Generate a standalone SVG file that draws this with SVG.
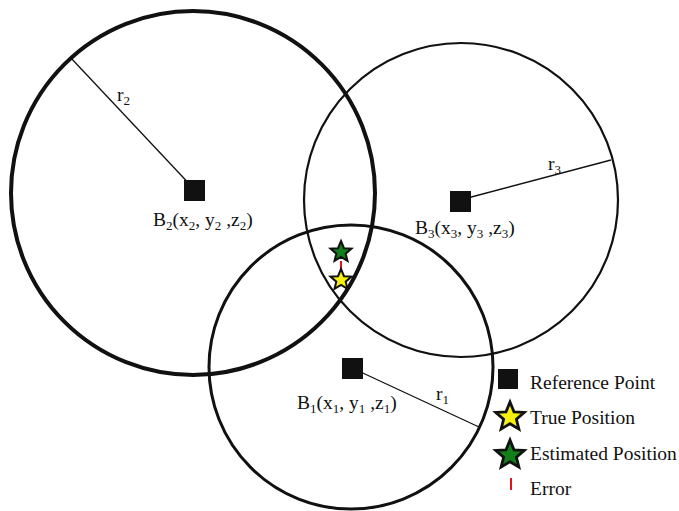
<svg xmlns="http://www.w3.org/2000/svg" width="679" height="511" viewBox="0 0 679 511">
<defs>
<style>
text{font-family:"Liberation Serif","Times New Roman",serif;font-size:19.5px;fill:#111}
.sub{font-size:13px}
.circ{fill:none;stroke:#111}
.rad{stroke:#111;stroke-width:1.3}
.sq{fill:#111}
.err{stroke:#e0151b;stroke-width:2}
</style>
<polygon id="star" points="0,-15 4,-5.2 14.3,-4.6 6.4,2.3 8.9,12.1 0,6.7 -8.9,12.1 -6.4,2.3 -14.3,-4.6 -4,-5.2" stroke="#111" stroke-width="2.8" stroke-linejoin="miter"/>
<polygon id="starS" points="0,-11 3,-3.8 10.5,-3.4 4.7,1.7 6.5,8.9 0,4.9 -6.5,8.9 -4.7,1.7 -10.5,-3.4 -3,-3.8" stroke="#111" stroke-width="2" stroke-linejoin="miter"/>
</defs>
<rect width="679" height="511" fill="#fff"/>
<g id="connectors">
<line class="rad" x1="195" y1="190" x2="70" y2="57"/>
<line class="rad" x1="460" y1="200" x2="611" y2="160"/>
<line class="rad" x1="352" y1="368" x2="479" y2="427"/>
<line class="err" x1="341" y1="261" x2="341" y2="273"/>
</g>
<g id="circle2"><circle class="circ" cx="193" cy="193" r="182" stroke-width="4"/></g>
<g id="circle3"><circle class="circ" cx="461" cy="200" r="157" stroke-width="2.2"/></g>
<g id="circle1"><circle class="circ" cx="351" cy="367" r="142" stroke-width="3"/></g>
<g id="B2">
<rect class="sq" x="184" y="180" width="21" height="21"/>
<text x="153" y="226">B<tspan class="sub" dy="4">2</tspan><tspan dy="-4">(x</tspan><tspan class="sub" dy="4">2</tspan><tspan dy="-4">, y</tspan><tspan class="sub" dy="4">2</tspan><tspan dy="-4"> ,z</tspan><tspan class="sub" dy="4">2</tspan><tspan dy="-4">)</tspan></text>
<text x="117" y="101">r<tspan class="sub" dy="4">2</tspan></text>
</g>
<g id="B3">
<rect class="sq" x="450" y="191" width="21" height="21"/>
<text x="415" y="234">B<tspan class="sub" dy="4">3</tspan><tspan dy="-4">(x</tspan><tspan class="sub" dy="4">3</tspan><tspan dy="-4">, y</tspan><tspan class="sub" dy="4">3</tspan><tspan dy="-4"> ,z</tspan><tspan class="sub" dy="4">3</tspan><tspan dy="-4">)</tspan></text>
<text x="548" y="170">r<tspan class="sub" dy="4">3</tspan></text>
</g>
<g id="B1">
<rect class="sq" x="342" y="358" width="21" height="21"/>
<text x="297" y="409">B<tspan class="sub" dy="4">1</tspan><tspan dy="-4">(x</tspan><tspan class="sub" dy="4">1</tspan><tspan dy="-4">, y</tspan><tspan class="sub" dy="4">1</tspan><tspan dy="-4"> ,z</tspan><tspan class="sub" dy="4">1</tspan><tspan dy="-4">)</tspan></text>
<text x="436" y="400">r<tspan class="sub" dy="4">1</tspan></text>
</g>
<g id="estimated"><use href="#starS" x="341" y="252" fill="#11801a"/></g>
<g id="true"><use href="#starS" x="341" y="280" fill="#f5f00f"/></g>
<g id="legend">
<rect class="sq" x="498" y="369" width="20" height="20"/>
<text x="530" y="389">Reference Point</text>
<use href="#star" x="510" y="417" fill="#f5f00f"/>
<text x="530" y="424">True Position</text>
<use href="#star" x="510" y="455" fill="#11801a"/>
<text x="530" y="460">Estimated Position</text>
<line class="err" x1="511" y1="478" x2="511" y2="490"/>
<text x="530" y="495">Error</text>
</g>
</svg>
